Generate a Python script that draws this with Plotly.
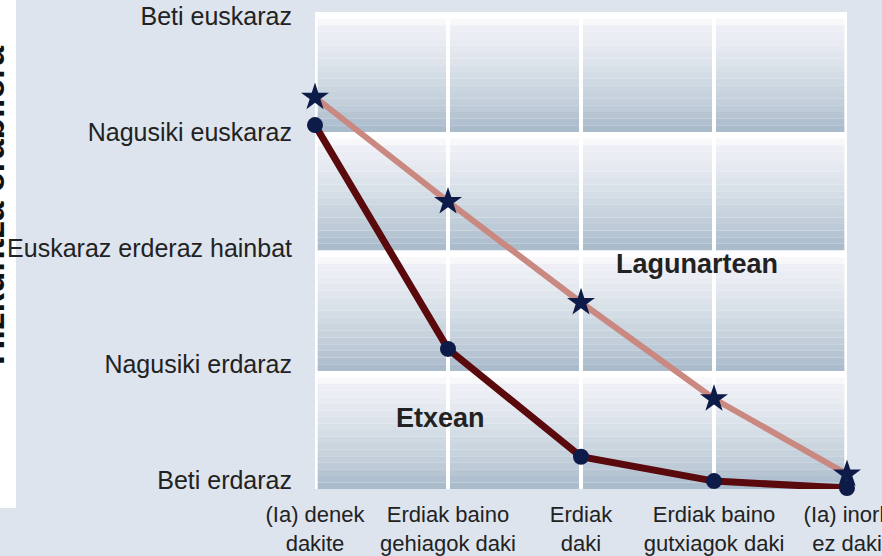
import plotly.graph_objects as go

# ---- data ----
x_labels = ["(Ia) denek<br>dakite", "Erdiak baino<br>gehiagok daki", "Erdiak<br>daki",
            "Erdiak baino<br>gutxiagok daki", "(Ia) inork<br>ez daki"]
x_pos = [0, 1, 2, 3, 4]
y_labels = ["Beti erdaraz", "Nagusiki erdaraz", "Euskaraz erderaz hainbat",
            "Nagusiki euskaraz", "Beti euskaraz"]
y_vals = [1, 2, 3, 4, 5]
lagunartean = [4.30, 3.40, 2.53, 1.70, 1.05]
etxean = [4.06, 2.13, 1.20, 0.99, 0.93]

y_range = [0.922, 5.035]
band_edges = [0.922, 1.94, 2.98, 4.0, 5.035]

# ---- style ----
BG = "#dde4ee"
FONT = "Liberation Sans, Arial, sans-serif"
stops = [(0.0, (255, 255, 255)), (0.07, (255, 255, 255)), (0.10, (240, 240, 247)),
         (0.35, (226, 231, 239)), (0.60, (206, 216, 225)), (0.82, (188, 201, 214)),
         (1.0, (167, 184, 202))]


def grad(t):
    for (t0, c0), (t1, c1) in zip(stops[:-1], stops[1:]):
        if t <= t1:
            f = 0 if t1 == t0 else (t - t0) / (t1 - t0)
            c = [round(a + (b - a) * f) for a, b in zip(c0, c1)]
            return "rgb(%d,%d,%d)" % tuple(c)
    return "rgb(%d,%d,%d)" % stops[-1][1]


shapes = []
N = 18
for lo, hi in zip(band_edges[:-1], band_edges[1:]):
    h = hi - lo
    for j in range(N):
        top = hi - h * j / N
        bot = hi - h * (j + 1) / N
        shapes.append(dict(type="rect", xref="x", yref="y", x0=0.02, x1=3.98,
                           y0=bot, y1=top, fillcolor=grad((j + 0.5) / N),
                           line=dict(width=0), layer="below"))

L, R, T, B = 315, 35, 12, 67
W, H = 882, 556
pw, ph = W - L - R, H - T - B


def px_x(p):
    return (p - L) / pw


def px_y(p):
    return (H - B - p) / ph


# white strip on the left
shapes.append(dict(type="rect", xref="paper", yref="paper", x0=px_x(-2), x1=px_x(16),
                   y0=px_y(508), y1=px_y(-2), fillcolor="white", line=dict(width=0),
                   layer="below"))

fig = go.Figure()
fig.add_trace(go.Scatter(x=x_pos, y=lagunartean, mode="lines+markers", name="Lagunartean",
                         line=dict(color="#c98880", width=6),
                         marker=dict(symbol="star", size=21, color="#0d1b48"),
                         cliponaxis=False))
fig.add_trace(go.Scatter(x=x_pos, y=etxean, mode="lines+markers", name="Etxean",
                         line=dict(color="#5a0a0c", width=7),
                         marker=dict(symbol="circle", size=16, color="#0d1b48"),
                         cliponaxis=False))

fig.update_layout(
    width=W, height=H,
    margin=dict(l=L, r=R, t=T, b=B, pad=0, autoexpand=False),
    paper_bgcolor=BG, plot_bgcolor="white",
    showlegend=False,
    font=dict(family=FONT, color="#222222"),
    shapes=shapes,
    xaxis=dict(range=[0, 4], tickvals=x_pos, ticktext=x_labels, showgrid=True,
               gridcolor="white", gridwidth=4, zeroline=False, showline=False,
               automargin=False, ticklabeloverflow="allow",
               ticks="", tickfont=dict(size=22, color="#222222"), ticklabelstandoff=10),
    yaxis=dict(range=y_range, tickvals=y_vals, ticktext=y_labels, showgrid=False,
               zeroline=False, showline=False, ticks="", automargin=False,
               ticklabeloverflow="allow",
               tickfont=dict(size=25, color="#222222"), ticklabelstandoff=22),
    annotations=[
        dict(text="<b>Lagunartean</b>", x=2.87, y=2.86, xref="x", yref="y",
             showarrow=False, font=dict(size=27, color="#222222")),
        dict(text="<b>Etxean</b>", x=0.94, y=1.535, xref="x", yref="y",
             showarrow=False, font=dict(size=27, color="#222222")),
        dict(text="<b>Hizkuntza erabilera</b>", x=px_x(-8), y=px_y(205), xref="paper",
             yref="paper", textangle=-90, showarrow=False, xanchor="center",
             yanchor="middle", font=dict(size=35, color="#111111")),
    ],
)

fig.write_html("out.html", config={"displayModeBar": False},
               post_script="document.body.style.margin='0';")
